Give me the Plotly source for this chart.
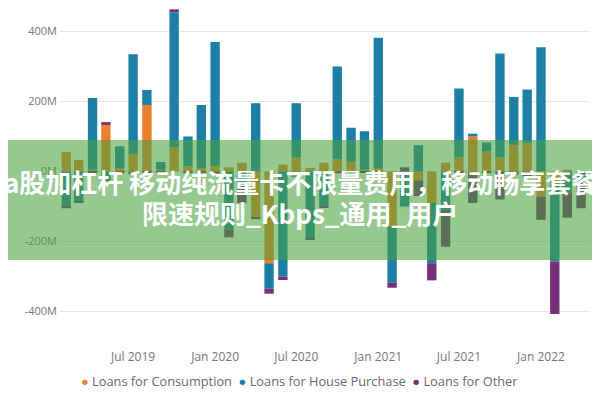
import plotly.graph_objects as go

# monthly net change in loans, millions
months = ["2019-02-01", "2019-03-01", "2019-04-01", "2019-05-01", "2019-06-01",
          "2019-07-01", "2019-08-01", "2019-09-01", "2019-10-01", "2019-11-01",
          "2019-12-01", "2020-01-01", "2020-02-01", "2020-03-01", "2020-04-01",
          "2020-05-01", "2020-06-01", "2020-07-01", "2020-08-01", "2020-09-01",
          "2020-10-01", "2020-11-01", "2020-12-01", "2021-01-01", "2021-02-01",
          "2021-03-01", "2021-04-01", "2021-05-01", "2021-06-01", "2021-07-01",
          "2021-08-01", "2021-09-01", "2021-10-01", "2021-11-01", "2021-12-01",
          "2022-01-01", "2022-02-01", "2022-03-01", "2022-04-01"]

consumption = [56, 33, 5, 133, 10, 50, 190, 5, 70, 15,
               10, 15, 12, 25, -130, -262, 20, 40, 10, 25,
               35, 28, 5, 10, -158, 0, -25, -90, 25, 40,
               100, 57, 40, 76, 82, -72, -40, 5, 0]

house = [-100, -87, 205, -30, 62, 285, 43, 22, 385, 85,
         180, 355, -165, -35, 195, -72, -300, 155, -190, -100,
         265, 97, 110, 372, -160, -100, 75, -172, -110, 197,
         8, 26, 297, 137, 152, 355, -217, -60, -30]

other = [-5, -3, -2, 8, -4, -8, -5, -3, 8, -5,
         -4, -6, -23, -55, -6, -15, -10, -15, -5, -4,
         -5, -4, -3, -5, -14, 12, -45, -49, -105, -5,
         -90, -5, -80, -10, -15, -66, -150, -72, -75]

y_ticks = [-400, -200, 0, 200, 400]
y_labels = ["-400M", "-200M", "0M", "200M", "400M"]

series = [("Loans for Consumption", consumption, "#EE7F2D"),
          ("Loans for House Purchase", house, "#1E7FA6"),
          ("Loans for Other", other, "#74307A")]

headline = "a股加杠杆 移动纯流量卡不限量费用，移动畅享套餐"
subline = "限速规则_Kbps_通用_用户"

fig = go.Figure()
for name, vals, col in series:
    fig.add_trace(go.Bar(x=months, y=vals, name=name, marker_color=col,
                         marker_line_width=0))

# the page adds an 8px body margin; plot area on screen is x 60..590, y 8..335
def px_x(p):
    return (p - 60) / 530.0

def px_y(p):
    return (335 - p) / 327.0

# green banner laid over the chart
fig.add_shape(type="rect", xref="paper", yref="paper",
              x0=px_x(-10), x1=px_x(620), y0=px_y(260), y1=px_y(140),
              fillcolor="rgba(70,160,60,0.57)", line_width=0, layer="above")

fig.add_annotation(text="<b>" + headline + "</b>", xref="paper", yref="paper",
                   x=px_x(300), y=px_y(181), xanchor="center", yanchor="middle",
                   showarrow=False,
                   font=dict(family="Noto Sans CJK SC", size=26, color="white"))
fig.add_annotation(text="<b>" + subline + "</b>", xref="paper", yref="paper",
                   x=px_x(300), y=px_y(212), xanchor="center", yanchor="middle",
                   showarrow=False,
                   font=dict(family="Noto Sans CJK SC", size=26, color="white"))

# compact legend with round dots, as text
legend_txt = "&nbsp;&nbsp;".join(
    "<span style='color:%s'>●</span> %s" % (col, name) for name, _, col in series)
fig.add_annotation(text=legend_txt, xref="paper", yref="paper",
                   x=px_x(299), y=px_y(381), xanchor="center", yanchor="middle",
                   showarrow=False,
                   font=dict(family="Open Sans", size=12.8, color="#6a6a6a"))

fig.update_layout(
    width=600, height=400,
    barmode="relative", bargap=0.25,
    plot_bgcolor="white", paper_bgcolor="white",
    margin=dict(l=52, r=18, t=0, b=73, autoexpand=False),
    font=dict(family="Open Sans", size=11, color="#777777"),
    showlegend=False,
)
fig.update_xaxes(type="date", range=["2019-01-18", "2022-04-21"],
                 dtick="M6", tick0="2019-07-01", tickformat="%b %Y",
                 tickfont=dict(size=12), ticklabelstandoff=13,
                 showgrid=False, zeroline=False, showline=False, ticks="")
fig.update_yaxes(range=[-467, 467], tickvals=y_ticks, ticktext=y_labels,
                 ticklabelstandoff=2, gridcolor="#e6e6e6", gridwidth=1,
                 zeroline=False, showline=False, ticks="")

fig.write_html("out.html")
